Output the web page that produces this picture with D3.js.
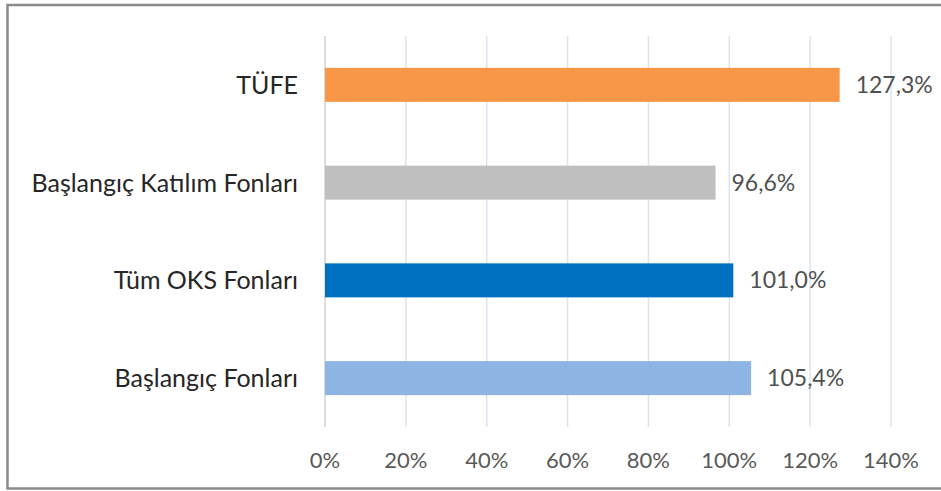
<!DOCTYPE html>
<html>
<head>
<meta charset="utf-8">
<script src="https://cdn.jsdelivr.net/npm/d3@7"></script>
<style>
  body { margin: 0; background: #fff; }
  svg text { font-family: Lato, "Open Sans", sans-serif; }
</style>
</head>
<body>
<div id="chart"></div>
<script>
// data
const categories = ["TÜFE", "Başlangıç Katılım Fonları", "Tüm OKS Fonları", "Başlangıç Fonları"];
const values = [127.3, 96.6, 101.0, 105.4];
const colors = ["#F79646", "#BFBFBF", "#0070C0", "#8EB4E3"];
const ticks = [0, 20, 40, 60, 80, 100, 120, 140];

const width = 941, height = 491;
const margin = {left: 325, top: 36, right: 50, bottom: 64};

const svg = d3.select("#chart").append("svg")
  .attr("width", width)
  .attr("height", height);

// frame
svg.append("rect")
  .attr("x", 7.5).attr("y", 5)
  .attr("width", 945).attr("height", 483.5)
  .attr("fill", "none")
  .attr("stroke", "#8a8a8a")
  .attr("stroke-width", 2.5);

const x = d3.scaleLinear().domain([0, 140]).range([margin.left, 891]);
const y = d3.scaleBand().domain(categories)
  .range([margin.top, height - margin.bottom])
  .paddingInner(0.652).paddingOuter(0.326);

// gridlines
svg.append("g").selectAll("line").data(ticks).join("line")
  .attr("x1", d => x(d)).attr("x2", d => x(d))
  .attr("y1", margin.top).attr("y2", height - margin.bottom)
  .attr("stroke", d => d === 0 ? "#d0d0d0" : "#dce3ef")
  .attr("stroke-width", 1.5);

// tick labels
svg.append("g").selectAll("text").data(ticks).join("text")
  .attr("x", d => x(d)).attr("y", 468)
  .attr("text-anchor", "middle")
  .attr("fill", "#595959")
  .attr("font-size", 22)
  .text(d => d + "%");

// bars
svg.append("g").selectAll("rect").data(categories).join("rect")
  .attr("x", x(0))
  .attr("y", d => y(d))
  .attr("width", (d, i) => x(values[i]) - x(0))
  .attr("height", y.bandwidth())
  .attr("fill", (d, i) => colors[i]);

// value labels
svg.append("g").selectAll("text").data(categories).join("text")
  .attr("x", (d, i) => x(values[i]) + 16)
  .attr("y", d => y(d) + y.bandwidth() / 2 + 8)
  .attr("fill", "#505050")
  .attr("font-size", 23)
  .text((d, i) => values[i].toFixed(1).replace(".", ",") + "%");

// category labels
svg.append("g").selectAll("text").data(categories).join("text")
  .attr("x", 298)
  .attr("y", d => y(d) + y.bandwidth() / 2 + 9)
  .attr("text-anchor", "end")
  .attr("fill", "#262626")
  .attr("font-size", 25)
  .text(d => d);
</script>
</body>
</html>
